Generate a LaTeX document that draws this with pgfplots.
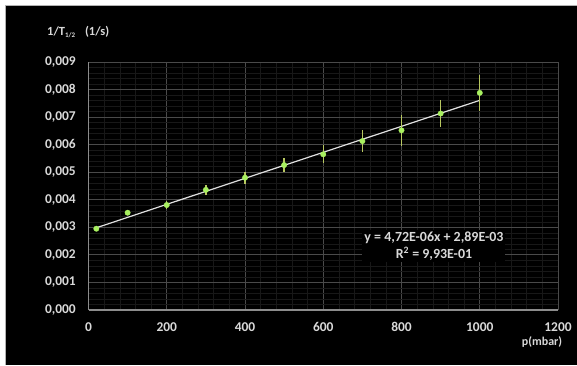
\documentclass[border=0pt]{standalone}
\usepackage{pgfplots}
\pgfplotsset{compat=1.18}
\usepackage{fontspec}
\setmainfont{Carlito}
\definecolor{txt}{HTML}{D9D9D9}
\definecolor{majgrid}{HTML}{4A4A4A}
\definecolor{mingrid}{HTML}{181818}
\definecolor{axl}{HTML}{8C8C8C}
\definecolor{mk}{HTML}{A8F060}
\definecolor{eb}{HTML}{B8C860}
\definecolor{trend}{HTML}{E0E0E0}
\pgfplotstableread{
x y e
20 0.00295 0.00009
100 0.00353 0.00010
200 0.00381 0.00013
300 0.00436 0.00019
400 0.00480 0.00022
500 0.00526 0.00026
600 0.00565 0.00033
700 0.00613 0.00039
800 0.00652 0.00056
900 0.00713 0.00050
1000 0.00788 0.00064
}\datatable
\begin{document}
\begin{tikzpicture}[x=1bp,y=1bp]
\useasboundingbox (0,0) rectangle (577,365);
\fill[white] (0,0) rectangle (577,365);
\fill[black] (5.5,0) rectangle (577,360);
\draw[gray!60, line width=0.6bp] (5.5,0) -- (5.5,360) -- (577,360);
\begin{axis}[
  at={(88.5bp,55bp)}, anchor=south west,
  scale only axis, width=469.5bp, height=248bp,
  xmin=0, xmax=1200, ymin=0, ymax=0.009,
  xtick={0,200,400,600,800,1000,1200},
  ytick={0,0.001,0.002,0.003,0.004,0.005,0.006,0.007,0.008,0.009},
  minor x tick num=4, minor y tick num=4,
  grid=both,
  major grid style={majgrid, line width=0.8bp},
  minor grid style={mingrid, line width=0.5bp},
  axis x line*=bottom, axis y line*=left,
  axis line style={axl, line width=1.1bp},
  major tick length=0pt, minor tick length=0pt,
  scaled y ticks=false,
  /pgf/number format/assume math mode=true,
  xticklabel style={font=\fontsize{13.5}{15}\selectfont\bfseries, text=txt, inner sep=0pt, yshift=-12.5bp,
    /pgf/number format/set thousands separator={}},
  yticklabel style={font=\fontsize{13.5}{15}\selectfont\bfseries, text=txt, inner sep=0pt, xshift=-12.5bp,
    /pgf/number format/fixed, /pgf/number format/fixed zerofill,
    /pgf/number format/precision=3, /pgf/number format/use comma},
  xlabel={p(mbar)},
  xlabel style={font=\fontsize{12}{14}\selectfont\bfseries, text=txt, at={(axis description cs:0.966,-0.129)}, anchor=center, inner sep=0pt},
  ylabel={1/T\raisebox{-0.25ex}{\fontsize{7}{8}\selectfont 1/2}\hspace{10bp}(1/s)},
  ylabel style={rotate=-90, font=\fontsize{12.5}{14}\selectfont\bfseries, text=txt, at={(axis description cs:-0.0884,1.121)}, anchor=west, inner sep=0pt},
]
\addplot[trend, line width=1.2bp] coordinates {(20,0.0029844) (1000,0.00761)};
\addplot[only marks, mark=*, mark size=2.7bp, mark options={fill=mk, draw=mk},
  error bars/.cd, y dir=both, y explicit, error mark=none,
  error bar style={eb, line width=1.3bp}]
  table[x=x, y=y, y error=e] {\datatable};
\node[fill=black, text=txt, align=center, inner sep=2bp,
  font=\fontsize{14}{17}\selectfont\bfseries]
  at (axis cs:883,0.00232) {y = 4,72E-06x + 2,89E-03\\R\textsuperscript{2} = 9,93E-01};
\end{axis}
\end{tikzpicture}
\end{document}
